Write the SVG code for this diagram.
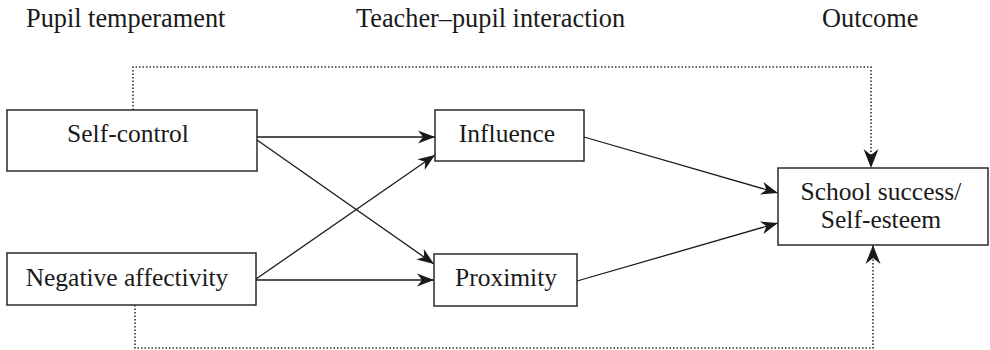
<svg xmlns="http://www.w3.org/2000/svg" width="990" height="350" viewBox="0 0 990 350">
<style>
.box{fill:#fff;stroke:#2a2a2a;stroke-width:1.5}
.t{font-family:"Liberation Serif","Times New Roman",serif;font-size:25.5px;fill:#1a1a1a}
.h{font-family:"Liberation Serif","Times New Roman",serif;font-size:26.3px;fill:#1a1a1a}
.c{text-anchor:middle}
.ln{fill:none;stroke:#1a1a1a;stroke-width:1.3;marker-end:url(#ah)}
.dt{fill:none;stroke:#333;stroke-width:1.6;stroke-dasharray:1.5 2;marker-end:url(#ahd)}
</style>
<defs>
<marker id="ah" viewBox="-18 -8 19 16" refX="0" refY="0" markerWidth="19" markerHeight="16" orient="auto" markerUnits="userSpaceOnUse">
<path d="M0,0 L-17,-6.5 L-12,0 L-17,6.5 Z" fill="#1a1a1a" stroke="none"/>
</marker>
<marker id="ahd" viewBox="-20 -9 21 18" refX="0" refY="0" markerWidth="21" markerHeight="18" orient="auto" markerUnits="userSpaceOnUse">
<path d="M0,0 L-19,-7.5 L-13,0 L-19,7.5 Z" fill="#1a1a1a" stroke="none"/>
</marker>
</defs>
<g id="headers">
<text class="h" x="26" y="27">Pupil temperament</text>
<text class="h" x="356" y="27">Teacher–pupil interaction</text>
<text class="h" x="822" y="27">Outcome</text>
</g>
<g id="connectors">
<path class="dt" d="M133,110 V67 H871 V168"/>
<path class="dt" d="M135,305 V348 H873 V245"/>
<line class="ln" x1="257" y1="137" x2="435" y2="137"/>
<line class="ln" x1="257" y1="140" x2="434" y2="264"/>
<line class="ln" x1="256" y1="279" x2="435" y2="155"/>
<line class="ln" x1="256" y1="280" x2="434" y2="280"/>
<line class="ln" x1="584" y1="137" x2="778" y2="193"/>
<line class="ln" x1="577" y1="281" x2="778" y2="223"/>
</g>
<g id="self-control">
<rect class="box" x="7" y="110" width="250" height="61"/>
<text class="t c" x="128" y="142">Self-control</text>
</g>
<g id="negative-affectivity">
<rect class="box" x="7" y="253" width="249" height="52"/>
<text class="t c" x="127" y="286">Negative affectivity</text>
</g>
<g id="influence">
<rect class="box" x="435" y="110" width="149" height="51"/>
<text class="t c" x="507" y="142">Influence</text>
</g>
<g id="proximity">
<rect class="box" x="434" y="254" width="143" height="52"/>
<text class="t c" x="506" y="286">Proximity</text>
</g>
<g id="school-success">
<rect class="box" x="778" y="168" width="210" height="77"/>
<text class="t c" x="881" y="200">School success/</text>
<text class="t c" x="881" y="228">Self-esteem</text>
</g>
</svg>
